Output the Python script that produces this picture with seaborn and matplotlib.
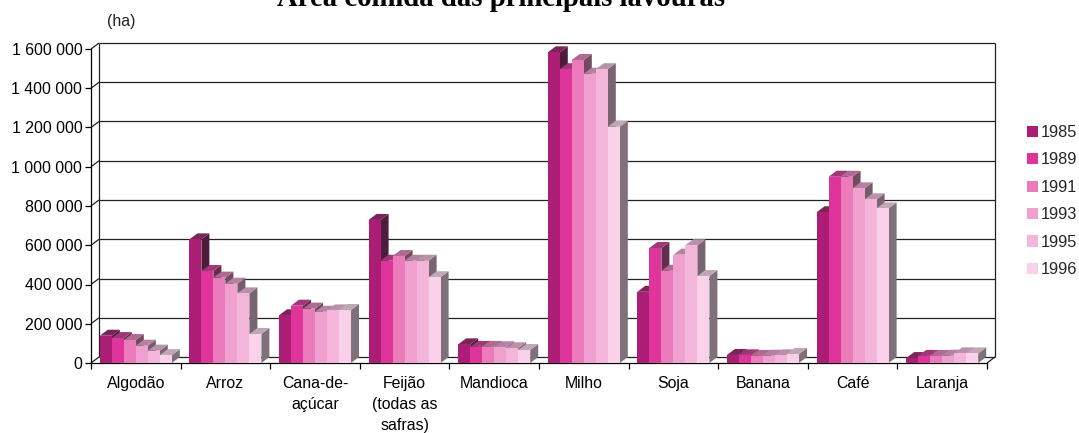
import matplotlib
matplotlib.use("Agg")
import matplotlib.pyplot as plt
from matplotlib.patches import Polygon
import matplotlib.colors as mcolors
import numpy as np
import pandas as pd
import seaborn as sns

categories = ["Algodão", "Arroz", "Cana-de-\naçúcar", "Feijão\n(todas as\nsafras)", "Mandioca",
              "Milho", "Soja", "Banana", "Café", "Laranja"]
years = ["1985", "1989", "1991", "1993", "1995", "1996"]
v1985 = [139000, 630000, 243000, 729000, 95000, 1583000, 363000, 41000, 768000, 25000]
v1989 = [127000, 469000, 292000, 521000, 82000, 1497000, 586000, 39000, 949000, 36000]
v1991 = [117000, 435000, 277000, 545000, 82000, 1544000, 470000, 36000, 949000, 36000]
v1993 = [88000, 404000, 261000, 521000, 80000, 1474000, 552000, 37000, 890000, 37000]
v1995 = [63000, 355000, 268000, 521000, 75000, 1497000, 600000, 39000, 834000, 49000]
v1996 = [40000, 148000, 270000, 437000, 66000, 1204000, 443000, 46000, 788000, 49000]
colors = ["#AC1D75", "#DF359B", "#EC7BBB", "#F0A0CF", "#F3B5DA", "#F9D2EA"]
y_ticks = [0, 200000, 400000, 600000, 800000, 1000000, 1200000, 1400000, 1600000]

df = pd.DataFrame({"cat": np.repeat(categories, 6),
                   "year": years * 10,
                   "area": np.array([v1985, v1989, v1991, v1993, v1995, v1996]).T.ravel()})

sns.set_theme(style="white")
plt.rcParams["font.family"] = ["Liberation Sans", "DejaVu Sans"]
W, H = 1079, 433
fig = plt.figure(figsize=(W / 100, H / 100), dpi=100)
L, R, T, B = 91, 987, 49, 363
ax = fig.add_axes([L / W, 1 - B / H, (R - L) / W, (B - T) / H])

sns.barplot(data=df, x="cat", y="area", hue="year", hue_order=years, palette=colors,
            order=categories, saturation=1, width=0.804, gap=0, dodge=True, ax=ax,
            linewidth=0, errorbar=None, zorder=5)
ax.set_xlim(-0.5, 9.5)
ax.set_ylim(0, 1600000)

dx = 8 / ((R - L) / 10)
dy = 6 / ((B - T) / 1600000)


def mix_gray(c, f, g):
    r = np.array(mcolors.to_rgb(c)) * f
    return tuple(r * (1 - g) + r.mean() * g)


# Extrude every bar's own rectangle to draw its top and side faces
for bars, col in zip(ax.containers, colors):
    for p in bars:
        x0, w, h = p.get_x(), p.get_width(), p.get_height()
        x1 = x0 + w
        ax.add_patch(Polygon([(x1, 0), (x1 + dx, dy), (x1 + dx, h + dy), (x1, h)],
                             fc=mix_gray(col, 0.52, 0.35), ec="none", zorder=3, clip_on=False))
        ax.add_patch(Polygon([(x0, h), (x0 + dx, h + dy), (x1 + dx, h + dy), (x1, h)],
                             fc=mix_gray(col, 0.78, 0.2), ec="none", zorder=4, clip_on=False))

# Back wall, side wall and floor
line = dict(color="#222222", lw=0.9, clip_on=False, zorder=1, solid_capstyle="butt")
x_lo, x_hi = ax.get_xlim()
for v in y_ticks:
    ax.plot([x_lo + dx, x_hi + dx], [v + dy, v + dy], **line)
    ax.plot([x_lo, x_lo + dx], [v, v + dy], **line)
ax.plot([x_lo + dx, x_lo + dx], [dy, 1600000 + dy], **line)
ax.plot([x_hi + dx, x_hi + dx], [dy, 1600000 + dy], **line)
ax.plot([x_hi, x_hi + dx], [0, dy], **line)

for s in ("top", "right"):
    ax.spines[s].set_visible(False)
for s in ("left", "bottom"):
    ax.spines[s].set_color("black")
    ax.spines[s].set_linewidth(0.9)
    ax.spines[s].set_visible(True)
ax.spines["left"].set_zorder(6)
ax.spines["bottom"].set_zorder(2)

ax.set_xlabel("")
ax.set_ylabel("")
ax.set_yticks(y_ticks)
ax.set_yticklabels([f"{v:,}".replace(",", " ") for v in y_ticks], fontsize=11.4)
ax.set_xticks(range(10))
ax.set_xticklabels(categories, fontsize=11.4, linespacing=1.5)
ax.set_xticks(np.arange(-0.5, 10, 1), minor=True)
ax.tick_params(axis="x", which="major", length=0, pad=9.5, colors="black")
ax.tick_params(axis="x", which="minor", length=4.3, width=0.9, color="black", bottom=True)
ax.tick_params(axis="y", which="major", length=4.3, width=0.9, color="black", left=True, pad=2, labelcolor="black")

handles, labels = ax.get_legend_handles_labels()
ax.legend(handles, labels, loc="upper left", bbox_to_anchor=(1022 / W, 1 - 120 / H),
          bbox_transform=fig.transFigure, frameon=False, fontsize=11.8,
          handlelength=0.67, handleheight=0.67, handletextpad=0.2, labelspacing=0.76, borderpad=0.3,
          borderaxespad=0)

fig.text(501 / W, 1 - 5.5 / H, "Área colhida das principais lavouras", family="Liberation Serif",
         weight="bold", fontsize=20.7, ha="center", va="baseline", color="black")
fig.text(107 / W, 1 - 26 / H, "(ha)", fontsize=11.4, ha="left", va="baseline", color="#222222")

fig.savefig("out.png", dpi=100, facecolor="white")
